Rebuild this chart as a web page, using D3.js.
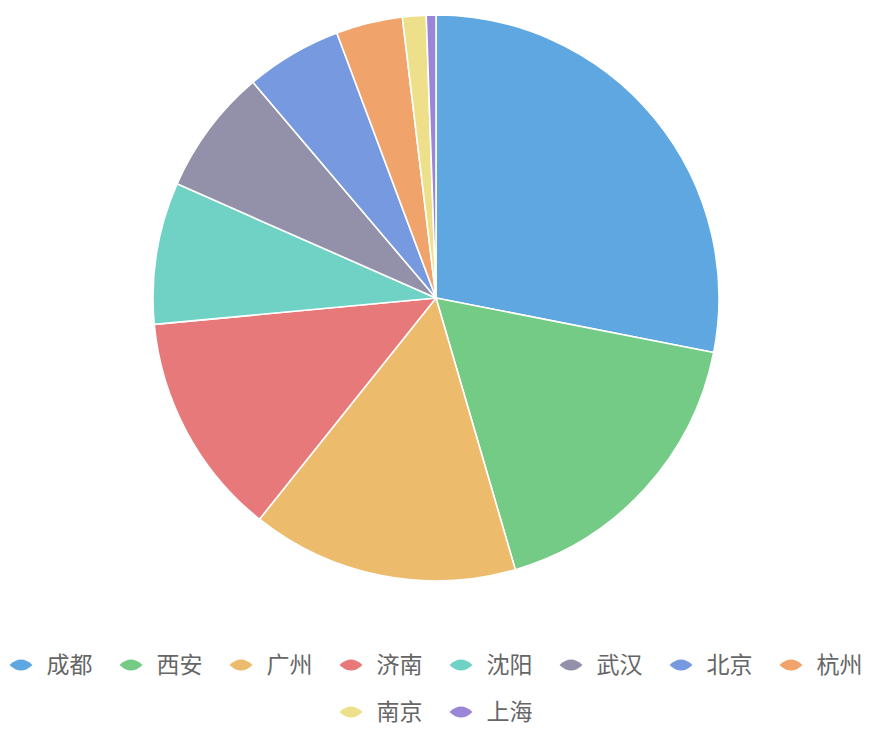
<!DOCTYPE html>
<html lang="zh">
<head>
    <meta charset="UTF-8">
    <title>城市占比</title>
    <script src="https://cdn.jsdelivr.net/npm/d3@7"></script>
    <style>
        body { margin: 0; background: #fff; }
    </style>
</head>
<body>
    <script>
        // 城市与数值（从图上估读，单位 %）
        const cities = ['成都', '西安', '广州', '济南', '沈阳', '武汉', '北京', '杭州', '南京', '上海'];
        const values = [28.1, 17.4, 15.25, 12.8, 8.1, 7.2, 5.5, 3.8, 1.35, 0.55];
        const colors = ['#5fa7e0', '#74cb86', '#ecbb6c', '#e8797b', '#6fd2c5',
                        '#9291a9', '#7799e0', '#f0a46c', '#eee08b', '#9a86d6'];

        const width = 874, height = 731;
        const cx = 436, cy = 298, radius = 283;

        const svg = d3.select('body').append('svg')
            .attr('width', width)
            .attr('height', height);

        const data = cities.map((c, i) => ({ name: c, value: values[i] }));

        const color = d3.scaleOrdinal().domain(cities).range(colors);

        // 饼图，从12点方向顺时针，不排序
        const pie = d3.pie().value(d => d.value).sort(null);
        const arc = d3.arc().innerRadius(0).outerRadius(radius);

        svg.append('g')
            .attr('transform', `translate(${cx},${cy})`)
            .selectAll('path')
            .data(pie(data))
            .enter()
            .append('path')
            .attr('d', arc)
            .attr('fill', d => color(d.data.name))
            .attr('stroke', '#fff')
            .attr('stroke-width', 1.6)
            .attr('stroke-linejoin', 'round');

        // 图例
        const iconW = 23, iconGap = 14, itemGap = 27, rowH = 47;
        const legendTop = 665;
        const maxW = 860;
        const legend = svg.append('g');

        const items = legend.selectAll('g.item')
            .data(data)
            .enter()
            .append('g')
            .attr('class', 'item');

        items.append('path')
            .attr('d', `M${-iconW / 2},0 Q0,-11 ${iconW / 2},0 Q0,11 ${-iconW / 2},0 Z`)
            .attr('transform', `translate(${iconW / 2},0)`)
            .attr('fill', d => color(d.name));

        items.append('text')
            .attr('x', iconW + iconGap)
            .attr('y', 0)
            .attr('dy', '0.36em')
            .attr('font-family', '"Noto Sans CJK SC", "Microsoft YaHei", sans-serif')
            .attr('font-size', 23)
            .attr('fill', '#666')
            .text(d => d.name);

        // 按行排列并居中
        const rows = [];
        let cur = [], curW = 0;
        items.each(function (d) {
            const w = iconW + iconGap + this.querySelector('text').getComputedTextLength();
            const add = cur.length ? itemGap + w : w;
            if (curW + add > maxW && cur.length) {
                rows.push({ list: cur, w: curW });
                cur = []; curW = 0;
            }
            cur.push({ node: this, w: w });
            curW += cur.length > 1 ? itemGap + w : w;
        });
        if (cur.length) rows.push({ list: cur, w: curW });

        rows.forEach((row, r) => {
            let x = cx - row.w / 2;
            row.list.forEach(it => {
                d3.select(it.node).attr('transform', `translate(${x},${legendTop + r * rowH})`);
                x += it.w + itemGap;
            });
        });
    </script>
</body>
</html>
